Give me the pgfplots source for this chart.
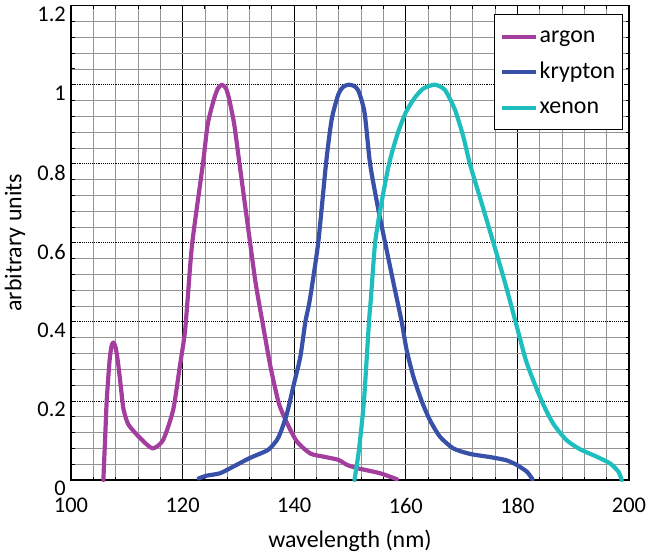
\documentclass[border=0pt]{standalone}
\usepackage{pgfplots}
\pgfplotsset{compat=1.18}
\usepackage{fontspec}
\setmainfont{Carlito}
\definecolor{argon}{RGB}{163,62,158}
\definecolor{krypton}{RGB}{56,80,168}
\definecolor{xenon}{RGB}{30,190,190}
\begin{document}
\begin{tikzpicture}
\begin{axis}[
  scale only axis, width=558bp, height=474.3bp,
  xmin=100, xmax=200, ymin=0, ymax=1.2,
  xtick={100,120,140,160,180,200},
  ytick={0,0.2,0.4,0.6,0.8,1,1.2},
  xticklabels={100,120,140,160,180,200},
  yticklabels={0,0.2,0.4,0.6,0.8,1,1.2},
  minor x tick num=4, minor y tick num=4,
  grid=both,
  major grid style={black, line width=0.9pt},
  major y grid style={black, line width=0.9pt, densely dotted},
  minor grid style={black!42, line width=0.8pt},
  axis line style={black, line width=1.5pt},
  tick style={black, line width=0.9pt},
  major tick length=5bp, minor tick length=3.5bp,
  font=\fontsize{24}{28}\selectfont,
  tick label style={font=\fontsize{22.5}{27}\selectfont, inner sep=0pt},
  xticklabel style={anchor=north, yshift=-18bp},
  yticklabel style={anchor=north east, xshift=-5bp, yshift=-1bp},
  xlabel={wavelength (nm)}, ylabel={arbitrary units},
  xlabel style={at={(axis description cs:0.5,-0.1286)}, anchor=center},
  ylabel style={at={(axis description cs:-0.1004,0.5)}, anchor=center},
  clip=false,
  legend style={at={(axis description cs:0.989,0.982)}, anchor=north east,
    draw=black, line width=1.2pt, inner xsep=5bp, inner ysep=9bp, row sep=9.5bp,
    font=\fontsize{24}{28}\selectfont,
    nodes={inner sep=2bp, text height=17bp, text depth=5bp, anchor=west}},
  legend cell align=left,
  legend image code/.code={\draw[#1, line width=4.2pt, line cap=butt] (0bp,0bp) -- (34bp,0bp);},
  every axis plot/.append style={line width=4.2pt, line join=round, line cap=round, smooth, tension=0.4},
]

% argon
\addplot[argon] coordinates {
(105.8,0) (106.1,0.1) (106.4,0.2) (106.9,0.30) (107.25,0.338) (107.6,0.348)
(108.0,0.335) (108.4,0.30)
(108.9,0.24) (109.4,0.18) (110.3,0.14) (112.4,0.106) (114.6,0.080)
(116.5,0.101) (118.3,0.177) (119.5,0.287) (120.4,0.372) (120.9,0.457)
(121.73,0.6) (123.64,0.8) (124.5,0.9) (125.55,0.96) (126.3,0.99) (127.05,1.0)
(127.8,0.99) (128.4,0.96) (129.25,0.9) (130.2,0.8) (132.1,0.6) (133.1,0.497)
(134.3,0.4) (135.76,0.286) (137.25,0.194) (138.75,0.143) (140.5,0.097)
(142.9,0.067) (145.3,0.059) (147.9,0.051) (149.5,0.038) (151.6,0.029)
(155.4,0.017) (158.4,0.002)
};

% krypton
\addplot[krypton] coordinates {
(122.9,0.004) (124.3,0.011) (126.7,0.017) (129.1,0.034) (132.1,0.056)
(135.3,0.076) (136.9,0.101) (137.6,0.122) (138.7,0.168) (139.9,0.24)
(141.1,0.312) (142.0,0.40) (142.8,0.456) (144.3,0.6) (145.7,0.8)
(146.7,0.911) (147.9,0.975) (148.8,0.995) (149.8,1.0) (150.7,0.997) (151.5,0.985) (152.6,0.93)
(153.6,0.8) (155.0,0.69) (156.3,0.6) (157.8,0.498) (159.25,0.401)
(160.15,0.329) (161.35,0.262) (162.84,0.2) (164.3,0.152) (166.1,0.110)
(168.5,0.080) (171.5,0.066) (175.1,0.058) (178.0,0.050) (179.9,0.038)
(181.7,0.021) (182.7,0.002)
};

% xenon
\addplot[xenon] coordinates {
(150.8,0) (151.6,0.076) (152.5,0.2) (153.4,0.4) (153.75,0.46)
(154.5,0.6) (155.5,0.69) (157.0,0.8) (158.5,0.875) (160.0,0.93)
(161.5,0.965) (163.1,0.99) (165.2,1.0) (167.0,0.987) (168.8,0.937)
(170.3,0.869) (171.5,0.799) (173.6,0.7) (175.7,0.6) (177.8,0.498)
(179.9,0.388) (181.7,0.295) (184.35,0.2) (186.4,0.143) (188.8,0.101)
(191.2,0.078) (194.2,0.059) (196.6,0.042) (198.1,0.021) (198.7,0.0)
};

\legend{argon,krypton,xenon}
\end{axis}
\pgfresetboundingbox
\path[use as bounding box] (current axis.south west) ++(-71bp,-74bp) rectangle ++(650bp,554bp);
\end{tikzpicture}
\end{document}
